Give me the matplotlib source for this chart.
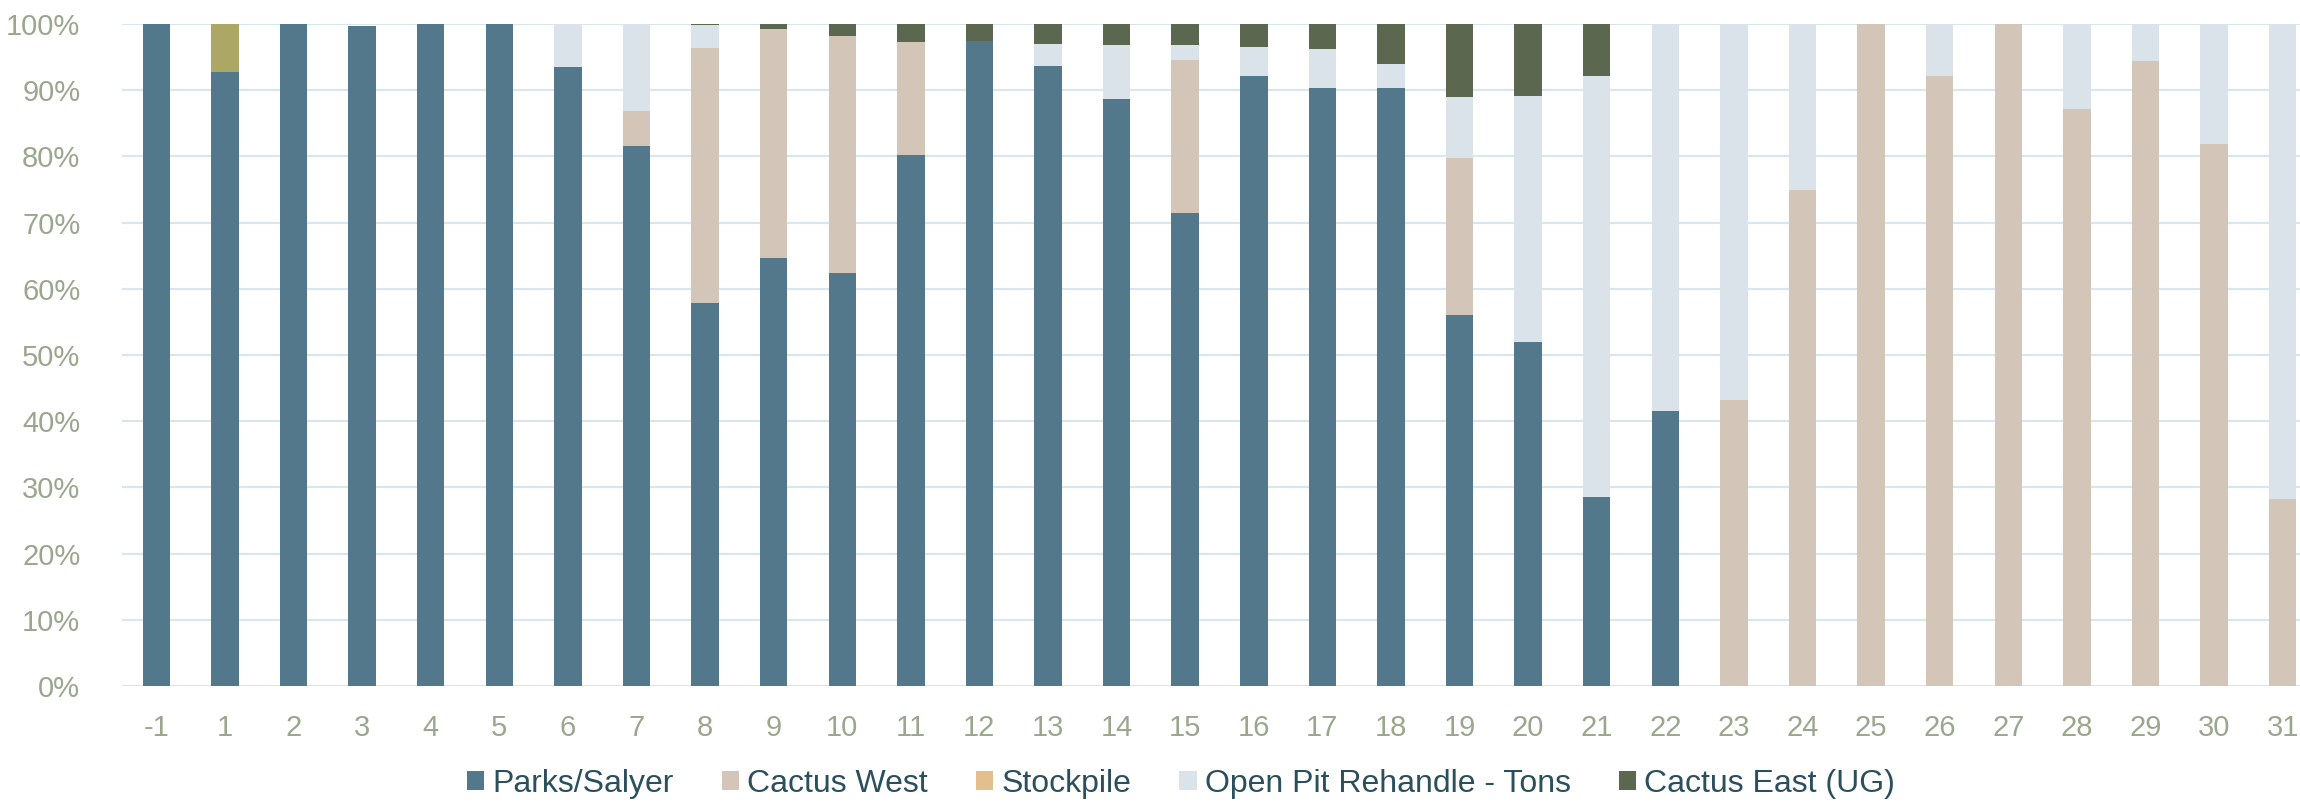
import numpy as np
import matplotlib.pyplot as plt

# ---- data (percent of tons per year) ----
years = ["-1", "1", "2", "3", "4", "5", "6", "7", "8", "9", "10", "11", "12", "13", "14", "15",
         "16", "17", "18", "19", "20", "21", "22", "23", "24", "25", "26", "27", "28", "29", "30", "31"]

parks_salyer = [100, 92.8, 100, 99.7, 100, 100, 93.5, 81.5, 57.8, 64.7, 62.4, 80.2, 97.4, 93.6, 88.7, 71.4,
                92.1, 90.4, 90.4, 56.0, 52.0, 28.6, 41.5, 0, 0, 0, 0, 0, 0, 0, 0, 0]
cactus_west = [0, 0, 0, 0, 0, 0, 0, 5.4, 38.6, 34.6, 35.8, 17.1, 0, 0, 0, 23.1,
               0, 0, 0, 23.8, 0, 0, 0, 43.2, 74.9, 100, 92.2, 100, 87.2, 94.4, 81.8, 28.2]
stockpile = [0] * 32
other = [0, 7.2] + [0] * 30   # olive block in year 1, not in legend
open_pit_rehandle = [0, 0, 0, 0, 0, 0, 6.5, 13.1, 3.5, 0, 0, 0, 0, 3.4, 8.2, 2.3,
                     4.5, 5.8, 3.5, 9.1, 37.1, 63.6, 58.5, 56.8, 25.1, 0, 7.8, 0, 12.8, 5.6, 18.2, 71.8]
cactus_east = [0, 0, 0, 0, 0, 0, 0, 0, 0.1, 0.7, 1.8, 2.7, 2.6, 3.0, 3.1, 3.2,
               3.4, 3.8, 6.1, 11.1, 10.9, 7.8, 0, 0, 0, 0, 0, 0, 0, 0, 0, 0]

series = [
    ("Parks/Salyer", parks_salyer, "#53788b"),
    ("Cactus West", cactus_west, "#d3c6b8"),
    ("Stockpile", stockpile, "#e2bf8c"),
    ("_other", other, "#ada766"),
    ("Open Pit Rehandle - Tons", open_pit_rehandle, "#dbe3ea"),
    ("Cactus East (UG)", cactus_east, "#5c6750"),
]

plt.rcParams["font.family"] = ["Liberation Sans", "DejaVu Sans"]

fig = plt.figure(figsize=(23, 8.02), dpi=100)
ax = fig.add_axes([122 / 2300, 1 - 686 / 802, 2195 / 2300, 662 / 802])

x = np.arange(len(years))
bottom = np.zeros(len(years))
handles = []
for name, vals, color in series:
    vals = np.array(vals, dtype=float)
    b = ax.bar(x, vals, bottom=bottom, width=0.4, color=color, label=name, linewidth=0)
    if not name.startswith("_"):
        handles.append(b)
    bottom += vals

ax.set_xlim(-0.5, len(years) - 0.5)
ax.set_ylim(0, 100)
ax.set_yticks(np.arange(0, 101, 10))
ax.set_yticklabels([f"{v}%" for v in range(0, 101, 10)])
ax.set_xticks(x)
ax.set_xticklabels(years)

ax.grid(axis="y", color="#d8e6ee", linewidth=1.6)
ax.set_axisbelow(True)
for s in ax.spines.values():
    s.set_visible(False)
ax.tick_params(axis="both", length=0, labelsize=21, labelcolor="#9aa78d")
ax.tick_params(axis="y", pad=30)
ax.tick_params(axis="x", pad=20)

leg = fig.legend(handles=handles, loc="center", bbox_to_anchor=(1181 / 2300, 1 - 784 / 802),
                 ncol=5, frameon=False, fontsize=23, handlelength=0.55, handleheight=0.55,
                 handletextpad=0.25, columnspacing=1.5)
for t in leg.get_texts():
    t.set_color("#2b4f5c")

fig.savefig("out.png", dpi=100)
